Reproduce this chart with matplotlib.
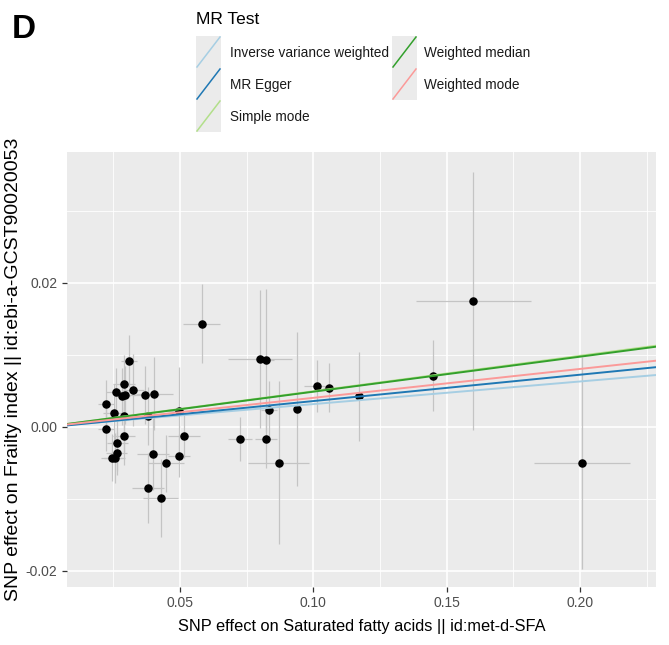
import matplotlib.pyplot as plt
from matplotlib.lines import Line2D
from matplotlib.patches import Rectangle

# SNP effects on exposure (saturated fatty acids) and outcome (frailty index)
bx = [0.2007, 0.1600, 0.1448, 0.1170, 0.1058, 0.1013, 0.0938, 0.0870, 0.0835, 0.0823,
      0.0800, 0.0823, 0.0725, 0.0582, 0.0515, 0.0497, 0.0497, 0.0448, 0.0428, 0.0404,
      0.0400, 0.0381, 0.0379, 0.0370, 0.0325, 0.0309, 0.0293, 0.0291, 0.0291, 0.0291,
      0.0283, 0.0266, 0.0263, 0.0262, 0.0256, 0.0253, 0.0244, 0.0222, 0.0222]
by = [-0.0050, 0.0174, 0.0071, 0.0042, 0.0054, 0.0056, 0.0025, -0.0050, 0.0023, 0.0092,
      0.0094, -0.0017, -0.0017, 0.0143, -0.0013, -0.0040, 0.0022, -0.0051, -0.0099, 0.0046,
      -0.0038, 0.0015, -0.0085, 0.0044, 0.0051, 0.0091, 0.0044, 0.0059, 0.0015, -0.0013,
      0.0042, -0.0022, -0.0037, 0.0048, -0.0043, 0.0019, -0.0043, 0.0032, -0.0003]
se_x = [0.0180, 0.0215, 0.0010, 0.0010, 0.0020, 0.0047, 0.0010, 0.0113, 0.0030, 0.0030,
        0.0120, 0.0040, 0.0044, 0.0070, 0.0060, 0.0040, 0.0040, 0.0067, 0.0065, 0.0070,
        0.0060, 0.0040, 0.0060, 0.0050, 0.0040, 0.0030, 0.0040, 0.0040, 0.0050, 0.0040,
        0.0030, 0.0040, 0.0040, 0.0040, 0.0040, 0.0040, 0.0040, 0.0030, 0.0030]
se_y = [0.0147, 0.0179, 0.0049, 0.0062, 0.0034, 0.0036, 0.0107, 0.0113, 0.0040, 0.0099,
        0.0096, 0.0040, 0.0031, 0.0055, 0.0030, 0.0030, 0.0061, 0.0040, 0.0054, 0.0051,
        0.0050, 0.0040, 0.0049, 0.0040, 0.0050, 0.0036, 0.0040, 0.0040, 0.0050, 0.0040,
        0.0040, 0.0040, 0.0030, 0.0034, 0.0035, 0.0040, 0.0033, 0.0033, 0.0030]

methods = ["Inverse variance weighted", "MR Egger", "Simple mode",
           "Weighted median", "Weighted mode"]
colors = ["#A6CEE3", "#1F78B4", "#B2DF8A", "#33A02C", "#FB9A99"]
slopes = [0.0314, 0.0366, 0.0492, 0.0486, 0.0401]
intercepts = [0.0, -0.0001, 0.0, 0.0, 0.0]

plt.rcParams['font.family'] = ["Liberation Sans", "DejaVu Sans"]

fig = plt.figure(figsize=(6.69, 6.45), dpi=100)
ax = fig.add_axes([0.1006, 0.0904, 0.8794, 0.6736])

ax.set_facecolor("#EBEBEB")
for s in ax.spines.values():
    s.set_visible(False)

ax.errorbar(bx, by, yerr=se_y, fmt="none", ecolor="#C4C4C4", elinewidth=0.9, zorder=2)
ax.errorbar(bx, by, xerr=se_x, fmt="none", ecolor="#C4C4C4", elinewidth=0.9, zorder=2)
ax.scatter(bx, by, s=26, color="black", zorder=3)

for a, b, c in zip(intercepts, slopes, colors):
    ax.axline((0, a), slope=b, color=c, lw=1.4, zorder=4)

ax.set_xlim(0.0078, 0.2284)
ax.set_ylim(-0.0222, 0.0381)
ax.set_xticks([0.05, 0.10, 0.15, 0.20])
ax.set_xticklabels(["0.05", "0.10", "0.15", "0.20"])
ax.set_xticks([0.025, 0.075, 0.125, 0.175, 0.225], minor=True)
ax.set_yticks([-0.02, 0.0, 0.02])
ax.set_yticklabels(["-0.02", "0.00", "0.02"])
ax.set_yticks([-0.01, 0.01, 0.03], minor=True)
ax.grid(which="major", color="white", lw=1.2)
ax.grid(which="minor", color="white", lw=0.6)
ax.set_axisbelow(True)
ax.tick_params(which="major", length=3.5, width=0.9, color="#333333",
               labelcolor="#4D4D4D", labelsize=10)
ax.tick_params(which="minor", length=0)

ax.set_xlabel("SNP effect on Saturated fatty acids || id:met-d-SFA", fontsize=11.8, labelpad=6)
ax.set_ylabel("SNP effect on Frailty index || id:ebi-a-GCST90020053", fontsize=14,
              labelpad=3)

fig.text(0.018, 0.955, "D", fontsize=24, fontweight="bold", va="center", ha="left")

# legend drawn like the ggplot one: grey key boxes with diagonal lines
W, H = 669.0, 645.0
fig.text(196 / W, 1 - 19 / H, "MR Test", fontsize=12.5, va="center", ha="left")
key_x = [196, 196, 196, 392, 392]
key_y = [36, 68, 100, 36, 68]
txt_x = [230, 230, 230, 424, 424]
for m, c, kx, ky, tx in zip(methods, colors, key_x, key_y, txt_x):
    fig.add_artist(Rectangle((kx / W, 1 - (ky + 32) / H), 25 / W, 32 / H,
                             transform=fig.transFigure, facecolor="#EBEBEB",
                             edgecolor="none"))
    fig.add_artist(Line2D([(kx + 1) / W, (kx + 24) / W],
                          [1 - (ky + 31) / H, 1 - (ky + 1) / H],
                          transform=fig.transFigure, color=c, lw=1.1))
    fig.text(tx / W, 1 - (ky + 17) / H, m, fontsize=9.8, va="center", ha="left",
             color="#1A1A1A")

fig.savefig("out.png", dpi=100)
